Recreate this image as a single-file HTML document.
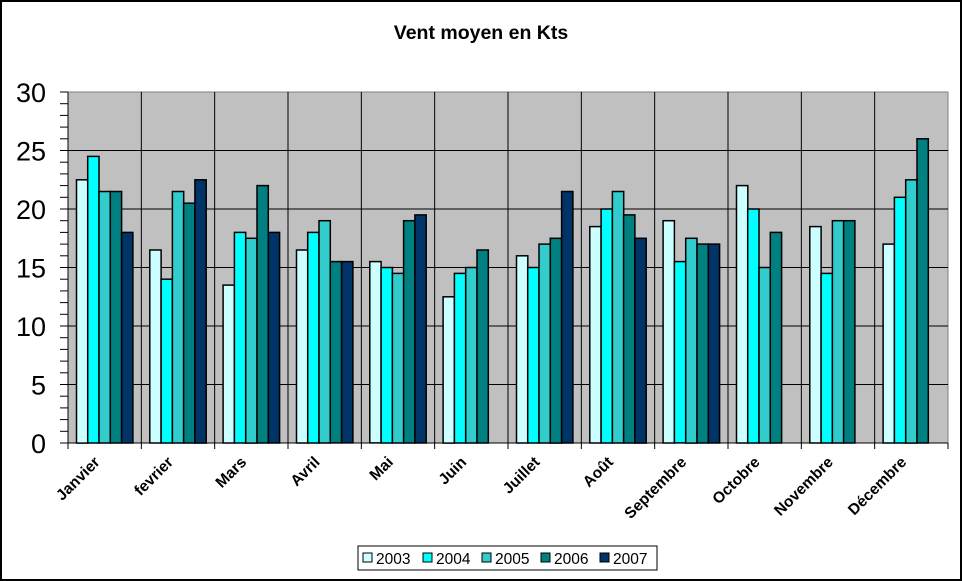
<!DOCTYPE html>
<html><head><meta charset="utf-8"><style>
html,body{margin:0;padding:0;background:#fff}
svg{display:block;font-family:"Liberation Sans",Arial,sans-serif}
</style></head><body>
<svg id="c" width="962" height="581" xmlns="http://www.w3.org/2000/svg">
<rect x="1" y="1" width="960" height="579" fill="#fff" stroke="#000" stroke-width="2"/>
<text x="481" y="39" text-anchor="middle" font-size="19.5" font-weight="bold">Vent moyen en Kts</text>
<rect x="68" y="92" width="880" height="351" fill="#C0C0C0" stroke="#808080" stroke-width="1"/>
<g id="g"></g>
</svg>
<script>
var g=document.getElementById('g'),h='';
var X0=68,W=880,Y0=443,S=351/30,cw=W/12,bw=cw/6.5,off=bw*0.75;
for(var v=5;v<=25;v+=5){var y=Y0-v*S;h+='<line x1="68" x2="948" y1="'+y+'" y2="'+y+'" stroke="#000" stroke-width="1"/>';}
for(var i=1;i<12;i++){var x=X0+i*cw;h+='<line x1="'+x+'" x2="'+x+'" y1="92" y2="443" stroke="#000" stroke-width="1"/>';}
var cols=['#CCFFFF','#00FFFF','#33CCCC','#008080','#003366'];
var d=[[22.5,24.5,21.5,21.5,18],[16.5,14,21.5,20.5,22.5],[13.5,18,17.5,22,18],[16.5,18,19,15.5,15.5],[15.5,15,14.5,19,19.5],[12.5,14.5,15,16.5,0],[16,15,17,17.5,21.5],[18.5,20,21.5,19.5,17.5],[19,15.5,17.5,17,17],[22,20,15,18,0],[18.5,14.5,19,19,0],[17,21,22.5,26,0]];
var labs=['Janvier','fevrier','Mars','Avril','Mai','Juin','Juillet','Août','Septembre','Octobre','Novembre','Décembre'];
for(var i=0;i<12;i++){for(var j=0;j<5;j++){var v=d[i][j];if(!v)continue;var x=X0+i*cw+off+j*bw,y=Y0-v*S;
h+='<rect x="'+x.toFixed(1)+'" y="'+y.toFixed(1)+'" width="'+bw.toFixed(1)+'" height="'+(v*S).toFixed(1)+'" fill="'+cols[j]+'" stroke="#000" stroke-width="1.5"/>';}
var cx=X0+i*cw+cw/2-4;h+='<text transform="translate('+cx.toFixed(1)+',463) rotate(-45)" text-anchor="end" font-size="15.5" font-weight="bold">'+labs[i]+'</text>';}
h+='<line x1="68" x2="68" y1="92" y2="443" stroke="#000"/><line x1="60" x2="948" y1="443" y2="443" stroke="#000"/>';
for(var v=0;v<=30;v++){var y=Y0-v*S;h+='<line x1="60" x2="68" y1="'+y+'" y2="'+y+'" stroke="#000"/>';}
for(var v=0;v<=30;v+=5){var y=Y0-v*S;h+='<text x="46" y="'+(y+10)+'" text-anchor="end" font-size="27">'+v+'</text>';}
for(var i=0;i<=12;i++){var x=X0+i*cw;h+='<line x1="'+x+'" x2="'+x+'" y1="443" y2="449" stroke="#000"/>';}
h+='<rect x="358" y="546" width="299" height="24" fill="#fff" stroke="#000"/>';
var lx=[363,423,482,541,600];
for(var j=0;j<5;j++){h+='<rect x="'+lx[j]+'" y="553" width="9" height="9" fill="'+cols[j]+'" stroke="#000"/><text x="'+(lx[j]+13)+'" y="564" font-size="15.5">'+(2003+j)+'</text>';}
g.innerHTML=h;
</script>
</body></html>
